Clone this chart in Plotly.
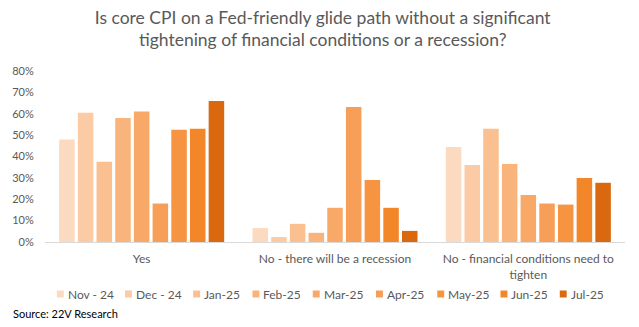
import plotly.graph_objects as go

categories = ["Yes", "No - there will be a recession", "No - financial conditions need to<br>tighten"]
months = ["Nov - 24", "Dec - 24", "Jan-25", "Feb-25", "Mar-25", "Apr-25", "May-25", "Jun-25", "Jul-25"]
colors = ["#FCDAC0", "#FBCBA5", "#FAC090", "#F9B47C", "#F8A968", "#F79E58", "#F69442", "#F4862A", "#D9680E"]

nov24 = [48, 6.5, 44.5]
dec24 = [60.5, 2.3, 36]
jan25 = [37.5, 8.5, 53]
feb25 = [58, 4.3, 36.5]
mar25 = [61, 16, 22]
apr25 = [18, 63.2, 18]
may25 = [52.5, 29, 17.5]
jun25 = [53, 16, 30]
jul25 = [66, 5.2, 27.7]

series = [nov24, dec24, jan25, feb25, mar25, apr25, may25, jun25, jul25]

FONT = "Lato"
GRAY = "#595959"

W, H = 639, 327
L, R, T, B = 38, 14, 71, 85
PW, PH = W - L - R, H - T - B


def px_x(px):
    return (px - L) / PW


def px_y(py):
    return (H - B - py) / PH


fig = go.Figure()
for name, vals, col in zip(months, series, colors):
    fig.add_trace(go.Bar(
        name=name, x=categories, y=[v / 100 for v in vals],
        marker=dict(color=col, line=dict(width=0)),
        showlegend=False,
    ))

# legend drawn as small squares + labels
legend_x = [50, 119, 188, 248, 309, 373, 435, 499, 559]
legend_y = 294
sq = 7
shapes = []
annotations = []
for lx, name, col in zip(legend_x, months, colors):
    shapes.append(dict(
        type="rect", xref="paper", yref="paper",
        x0=px_x(lx), x1=px_x(lx + sq),
        y0=px_y(legend_y + sq / 2), y1=px_y(legend_y - sq / 2),
        fillcolor=col, line=dict(width=0),
    ))
    annotations.append(dict(
        text=name, xref="paper", yref="paper",
        x=px_x(lx + sq + 2), y=px_y(legend_y), xanchor="left", yanchor="middle",
        showarrow=False, font=dict(family=FONT, size=12, color=GRAY),
    ))

annotations.append(dict(
    text="Source: 22V Research", xref="paper", yref="paper",
    x=px_x(4), y=px_y(313), xanchor="left", yanchor="middle", showarrow=False,
    font=dict(family=FONT, size=11, color="#000000"),
))

fig.update_layout(
    width=W, height=H,
    margin=dict(l=L, r=R, t=T, b=B),
    paper_bgcolor="white", plot_bgcolor="white",
    barmode="group", bargap=0.13, bargroupgap=0.17,
    font=dict(family=FONT, color=GRAY, size=12),
    title=dict(
        text="Is core CPI on a Fed-friendly glide path without a significant<br>tightening of financial conditions or a recession?",
        x=0.505, xanchor="center", y=0.928, yanchor="top",
        font=dict(family=FONT, size=17.5, color=GRAY),
    ),
    showlegend=False,
    xaxis=dict(
        showline=True, linecolor="#D9D9D9", linewidth=1,
        showgrid=False, ticks="", ticklabelstandoff=6,
        tickfont=dict(family=FONT, size=12, color=GRAY),
    ),
    yaxis=dict(
        range=[0, 0.8], dtick=0.1, tickformat=".0%",
        showgrid=False, zeroline=False, showline=False,
        ticks="outside", ticklen=8, tickcolor="rgba(0,0,0,0)",
        tickfont=dict(family=FONT, size=11, color=GRAY),
    ),
    shapes=shapes,
    annotations=annotations,
)

fig.write_html("out.html")
